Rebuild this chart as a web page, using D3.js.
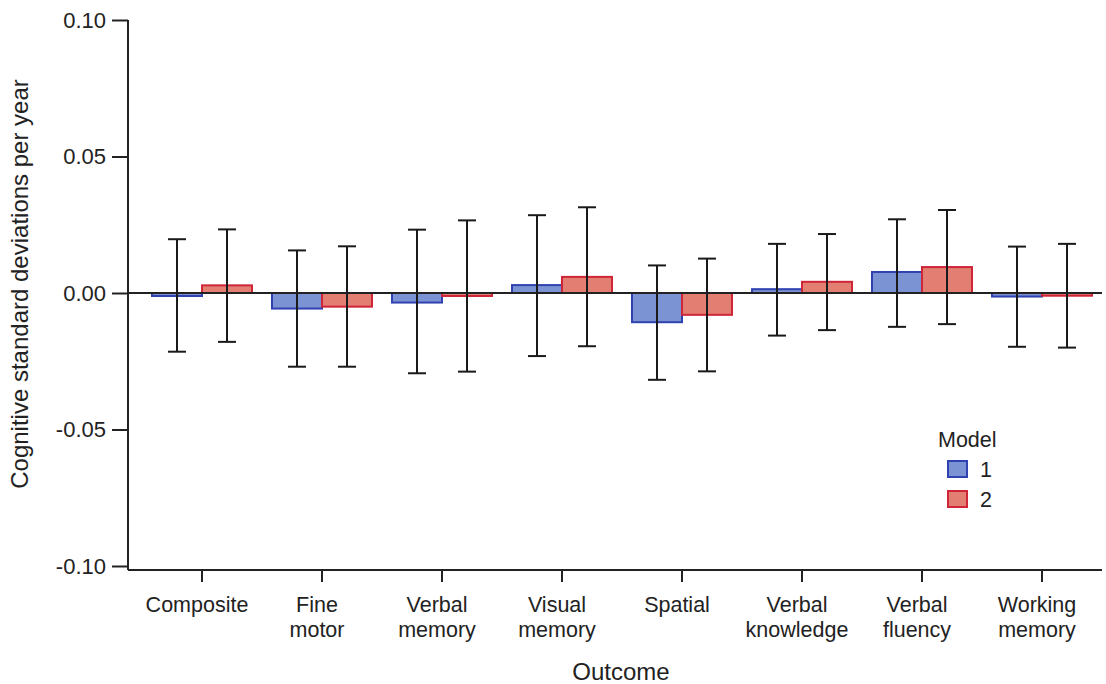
<!DOCTYPE html>
<html>
<head>
<meta charset="utf-8">
<script src="https://cdn.jsdelivr.net/npm/d3@7"></script>
<style>
  body { margin: 0; background: #fff; }
  text { font-family: "Liberation Sans", Arial, sans-serif; fill: #222; }
</style>
</head>
<body>
<div id="viz"></div>
<script>
var svg_width = 1106;
var svg_height = 684;

// data
var categories = ["Composite", "Fine motor", "Verbal memory", "Visual memory", "Spatial",
                  "Verbal knowledge", "Verbal fluency", "Working memory"];
var models = ["1", "2"];
var model1_est = [-0.0011, -0.0057, -0.0035, 0.0029, -0.0107, 0.0014, 0.0077, -0.0013];
var model1_lo  = [-0.0215, -0.0270, -0.0294, -0.0231, -0.0318, -0.0156, -0.0124, -0.0197];
var model1_hi  = [0.0197, 0.0156, 0.0232, 0.0285, 0.0101, 0.0180, 0.0270, 0.0170];
var model2_est = [0.0028, -0.0050, -0.0011, 0.0059, -0.0080, 0.0041, 0.0095, -0.0010];
var model2_lo  = [-0.0179, -0.0270, -0.0288, -0.0195, -0.0287, -0.0136, -0.0114, -0.0200];
var model2_hi  = [0.0233, 0.0171, 0.0266, 0.0314, 0.0126, 0.0216, 0.0304, 0.0180];
var y_ticks = [-0.10, -0.05, 0.00, 0.05, 0.10];

var fills = {"1": "#7b93d2", "2": "#e37e72"};
var strokes = {"1": "#3042b0", "2": "#cf2538"};

var rows = [];
categories.forEach(function(c, i) {
  rows.push({cat: c, model: "1", est: model1_est[i], lo: model1_lo[i], hi: model1_hi[i]});
  rows.push({cat: c, model: "2", est: model2_est[i], lo: model2_lo[i], hi: model2_hi[i]});
});

var svg = d3.select('#viz')
  .append('svg')
  .attr('width', svg_width)
  .attr('height', svg_height);

var x = d3.scaleBand().domain(categories).range([142, 1102]).padding(0);
var xSub = d3.scaleBand().domain(models).range([10, 110]).padding(0);
var y = d3.scaleLinear().domain([-0.10, 0.10]).range([566, 20]);

// y axis (hyphen minus like the original)
var fmt = d3.format('.2f');
var yAxis = svg.append('g')
  .attr('transform', 'translate(128,0)')
  .call(d3.axisLeft(y).tickValues(y_ticks)
    .tickFormat(function(d) { return fmt(d).replace('\u2212', '-'); })
    .tickSize(16).tickPadding(6));
yAxis.select('.domain').attr('d', 'M0,20V570').attr('stroke', '#222').attr('stroke-width', 2);
yAxis.selectAll('.tick line').attr('stroke', '#222').attr('stroke-width', 2);
yAxis.selectAll('.tick text').attr('font-size', 22).attr('fill', '#222')
  .attr('font-family', '"Liberation Sans", Arial, sans-serif');

// x axis
var xAxis = svg.append('g')
  .attr('transform', 'translate(0,570)')
  .call(d3.axisBottom(x).tickSize(12).tickFormat(''));
xAxis.select('.domain').attr('d', 'M128,0H1102').attr('stroke', '#222').attr('stroke-width', 2);
xAxis.selectAll('.tick line').attr('stroke', '#222').attr('stroke-width', 2);

// category labels on one or two lines
categories.forEach(function(c) {
  var words = c.split(' ');
  var cx = x(c) + x.bandwidth() / 2 - 5;
  var t = svg.append('text')
    .attr('text-anchor', 'middle')
    .attr('font-size', 21.5)
    .attr('x', cx)
    .attr('y', 612);
  words.forEach(function(w, j) {
    t.append('tspan').attr('x', cx).attr('dy', j === 0 ? 0 : 24.5).text(w);
  });
});

// bars
svg.selectAll('rect.bar')
  .data(rows)
  .enter()
  .append('rect')
  .attr('class', 'bar')
  .attr('x', function(d) { return x(d.cat) + xSub(d.model); })
  .attr('y', function(d) { return Math.min(y(d.est), y(0)); })
  .attr('width', xSub.bandwidth())
  .attr('height', function(d) { return Math.abs(y(d.est) - y(0)); })
  .attr('fill', function(d) { return fills[d.model]; })
  .attr('stroke', function(d) { return strokes[d.model]; })
  .attr('stroke-width', 2);

// zero line
svg.append('line')
  .attr('x1', 128).attr('x2', 1102)
  .attr('y1', y(0)).attr('y2', y(0))
  .attr('stroke', '#222').attr('stroke-width', 2);

// error bars
var eb = svg.selectAll('g.err')
  .data(rows)
  .enter()
  .append('g')
  .attr('class', 'err')
  .attr('stroke', '#1a1a1a')
  .attr('stroke-width', 2);
eb.append('line')
  .attr('x1', function(d) { return x(d.cat) + xSub(d.model) + xSub.bandwidth() / 2; })
  .attr('x2', function(d) { return x(d.cat) + xSub(d.model) + xSub.bandwidth() / 2; })
  .attr('y1', function(d) { return y(d.hi); })
  .attr('y2', function(d) { return y(d.lo); });
['hi', 'lo'].forEach(function(k) {
  eb.append('line')
    .attr('x1', function(d) { return x(d.cat) + xSub(d.model) + xSub.bandwidth() / 2 - 9; })
    .attr('x2', function(d) { return x(d.cat) + xSub(d.model) + xSub.bandwidth() / 2 + 9; })
    .attr('y1', function(d) { return y(d[k]); })
    .attr('y2', function(d) { return y(d[k]); });
});

// axis titles
svg.append('text')
  .attr('text-anchor', 'middle')
  .attr('font-size', 24)
  .attr('x', 621).attr('y', 680)
  .text('Outcome');
svg.append('text')
  .attr('text-anchor', 'middle')
  .attr('font-size', 24)
  .attr('transform', 'translate(28,284) rotate(-90)')
  .text('Cognitive standard deviations per year');

// legend
var legend = svg.append('g').attr('transform', 'translate(938,447)');
legend.append('text').attr('x', 0).attr('y', 0).attr('font-size', 21.5).text('Model');
models.forEach(function(m, i) {
  legend.append('rect')
    .attr('x', 10).attr('y', 14 + i * 30)
    .attr('width', 19).attr('height', 16)
    .attr('fill', fills[m]).attr('stroke', strokes[m]).attr('stroke-width', 2);
  legend.append('text')
    .attr('x', 42).attr('y', 30 + i * 30)
    .attr('font-size', 21.5)
    .text(m);
});
</script>
</body>
</html>
